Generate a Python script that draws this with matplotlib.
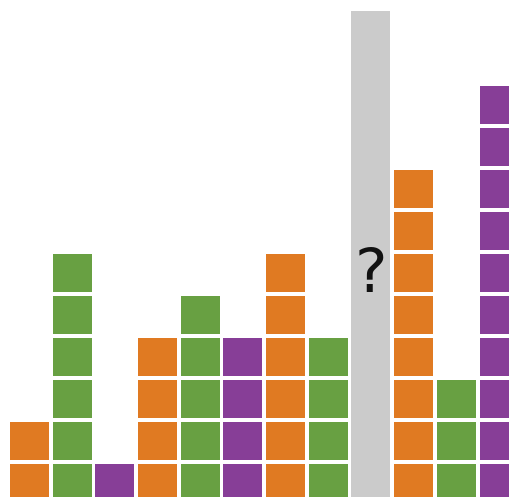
import matplotlib
matplotlib.use("Agg")
import matplotlib.pyplot as plt

# block counts per column, None marks the unknown (grey) column
counts = [2, 6, 1, 4, 5, 4, 6, 4, None, 8, 3, 10]
series = ["orange", "green", "purple"] * 4
palette = {"orange": "#E07A22", "green": "#68A042", "purple": "#873E97"}
unknown_height = 11.7
unknown_label = "?"

fig = plt.figure(figsize=(5.09, 4.97), dpi=100)
ax = fig.add_axes([0, 0, 1, 1])

for i, (n, s) in enumerate(zip(counts, series)):
    if n is None:
        ax.bar(i, unknown_height, width=0.91, align="edge", color="#CBCBCB")
        ax.text(i + 0.455, 5.4, unknown_label, ha="center", va="center",
                fontsize=44, fontweight="medium", color="#111111")
        continue
    for k in range(n):
        ax.bar(i, 0.905, bottom=k, width=0.91, align="edge", color=palette[s])

ax.set_xlim(-0.234, 11.69)
ax.set_ylim(0.119, 11.95)
ax.axis("off")

fig.savefig("out.png", dpi=100)
